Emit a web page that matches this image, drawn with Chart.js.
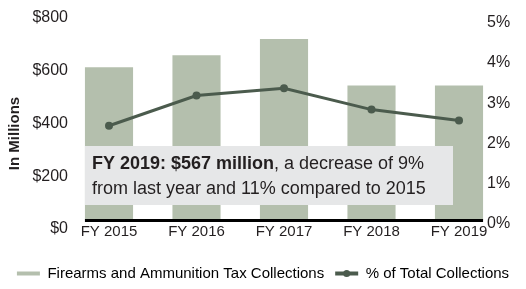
<!DOCTYPE html>
<html><head><meta charset="utf-8">
<script src="https://cdn.jsdelivr.net/npm/chart.js@4.4.1/dist/chart.umd.min.js"></script>
<style>html,body{margin:0;padding:0;background:#fff;}#wrap{width:526px;height:289px;}</style>
</head><body><div id="wrap"><canvas id="c" width="526" height="289"></canvas></div>
<script>
const categories = ['FY 2015', 'FY 2016', 'FY 2017', 'FY 2018', 'FY 2019'];
const taxCollections = [579, 625, 686, 510, 510];
const pctOfTotal = [2.34, 3.09, 3.27, 2.74, 2.47];
const leftTicks = [0, 200, 400, 600, 800];
const rightTicks = [0, 1, 2, 3, 4, 5];
const seriesNames = ['Firearms and Ammunition Tax Collections', '% of Total Collections'];
const axisTitle = 'In Millions';
const noteBold = 'FY 2019: $567 million';
const noteRest = ', a decrease of 9%';
const noteLine2 = 'from last year and 11% compared to 2015';

const FONT = "'Liberation Sans', Arial, sans-serif";
const BAR = '#b4bfad', LINE = '#4b5b4d', INK = '#231f20', BOX = '#e6e7e8';
Chart.defaults.font.family = FONT;
Chart.defaults.color = INK;

const extras = {
  id: 'extras',
  afterDatasetsDraw(chart) {
    const ctx = chart.ctx, ca = chart.chartArea;
    const bars = chart.getDatasetMeta(0).data;
    const x0 = bars[0].x - bars[0].width / 2;
    const x1 = bars[bars.length - 1].x + bars[bars.length - 1].width / 2;
    const yb = chart.scales.y.getPixelForValue(0);
    ctx.save();
    const bTop = ca.bottom - 74, bBot = ca.bottom - 15, bRight = ca.right - 6;
    ctx.fillStyle = BOX;
    ctx.fillRect(x0, bTop, bRight - x0, bBot - bTop);
    ctx.fillStyle = INK;
    ctx.textBaseline = 'middle';
    ctx.textAlign = 'left';
    ctx.font = "bold 18px " + FONT;
    ctx.fillText(noteBold, x0 + 7, bTop + 18.5);
    const w = ctx.measureText(noteBold).width;
    ctx.font = "18px " + FONT;
    ctx.fillText(noteRest, x0 + 7 + w, bTop + 18.5);
    ctx.fillText(noteLine2, x0 + 7, bTop + 43.5);
    ctx.strokeStyle = '#000';
    ctx.lineWidth = 3;
    ctx.beginPath();
    ctx.moveTo(x0, yb + 0.5);
    ctx.lineTo(x1, yb + 0.5);
    ctx.stroke();
    ctx.restore();
  },
  afterDraw(chart) {
    const ctx = chart.ctx, ca = chart.chartArea;
    ctx.save();
    ctx.translate(15, (ca.top + ca.bottom) / 2 + 19);
    ctx.rotate(-Math.PI / 2);
    ctx.font = "bold 15px " + FONT;
    ctx.fillStyle = INK;
    ctx.textAlign = 'center';
    ctx.textBaseline = 'middle';
    ctx.fillText(axisTitle, 0, 0);
    ctx.restore();
    const hb = chart.legend.legendHitBoxes[1];
    if (hb) {
      ctx.save();
      ctx.fillStyle = LINE;
      ctx.beginPath();
      ctx.arc(hb.left + 11.5, hb.top + hb.height / 2, 3.5, 0, Math.PI * 2);
      ctx.fill();
      ctx.restore();
    }
  }
};

const fixY = w => s => { s.width = w; s.paddingTop = 0; s.paddingBottom = 0; };

new Chart(document.getElementById('c'), {
  type: 'bar',
  data: {
    labels: categories,
    datasets: [
      { type: 'bar', label: seriesNames[0], data: taxCollections, yAxisID: 'y',
        backgroundColor: BAR, borderWidth: 0, categoryPercentage: 1, barPercentage: 0.55, order: 1, clip: false },
      { type: 'line', label: seriesNames[1], data: pctOfTotal, yAxisID: 'y1',
        borderColor: LINE, backgroundColor: LINE, borderWidth: 3, pointRadius: 4,
        pointBackgroundColor: LINE, pointBorderWidth: 0, tension: 0, order: 0, clip: false }
    ]
  },
  options: {
    responsive: false, animation: false,
    layout: { padding: { top: 9, bottom: -2, left: 0, right: 0 } },
    scales: {
      x: { offset: false, grid: { display: false, drawTicks: false }, border: { display: false },
           ticks: { font: { size: 15 }, padding: 3, maxRotation: 0, autoSkip: false, color: INK },
           afterFit: s => { s.height = 35; } },
      y: { position: 'left', min: 0, max: 800, grid: { display: false, drawTicks: false }, border: { display: false },
           afterBuildTicks: s => { s.ticks = leftTicks.map(v => ({ value: v })); },
           ticks: { font: { size: 16 }, padding: 41, labelOffset: 9, color: INK, callback: v => '$' + v },
           afterFit: fixY(109) },
      y1: { position: 'right', min: 0, max: 5.237, grid: { display: false, drawTicks: false }, border: { display: false },
           afterBuildTicks: s => { s.ticks = rightTicks.map(v => ({ value: v })); },
           ticks: { font: { size: 16 }, padding: 28, labelOffset: 4, color: INK, callback: v => v + '%' },
           afterFit: fixY(67) }
    },
    plugins: {
      tooltip: { enabled: false },
      legend: {
        position: 'bottom',
        labels: {
          boxWidth: 23, boxHeight: 4, padding: 11, font: { size: 15 }, color: INK,
          generateLabels: () => [
            { text: seriesNames[0], fillStyle: BAR, strokeStyle: BAR, lineWidth: 0, datasetIndex: 0, hidden: false },
            { text: seriesNames[1], fillStyle: LINE, strokeStyle: LINE, lineWidth: 0, datasetIndex: 1, hidden: false }
          ]
        }
      }
    }
  },
  plugins: [extras]
});
</script></body></html>
